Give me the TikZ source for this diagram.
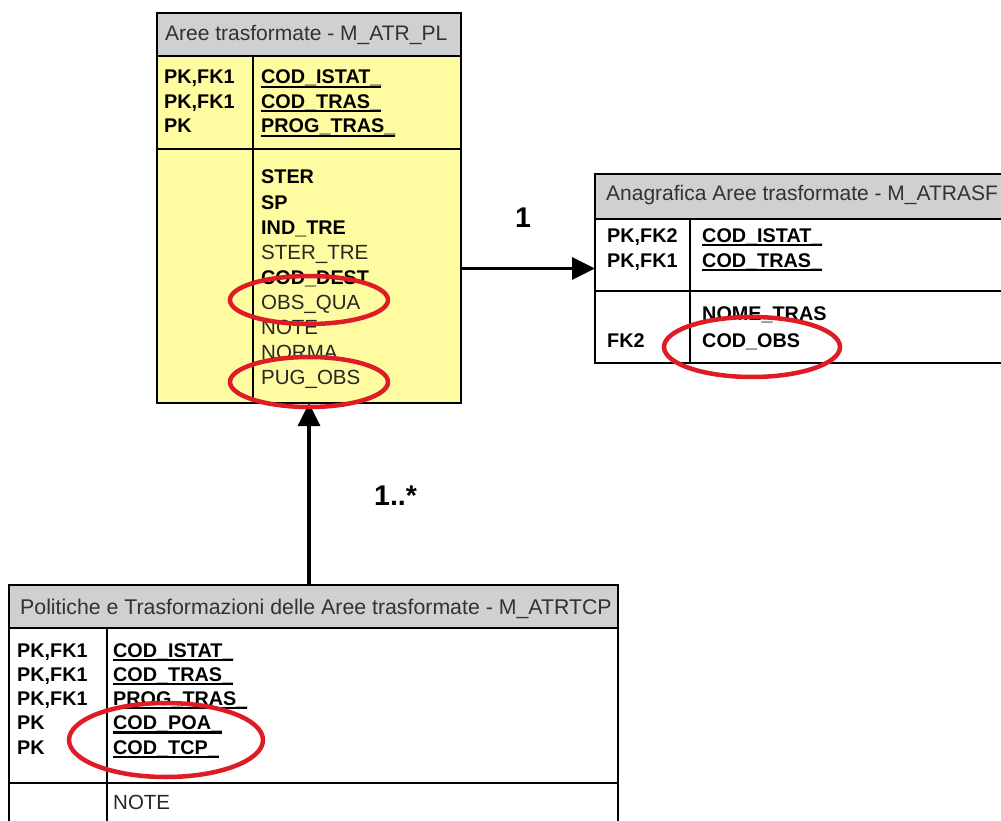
\documentclass[tikz,border=0pt]{standalone}
\usepackage{fontspec}
\setmainfont{Liberation Sans}
\usetikzlibrary{arrows.meta}
\definecolor{tabyellow}{RGB}{255,251,160}
\definecolor{tabgray}{RGB}{208,208,208}
\definecolor{markred}{RGB}{222,28,38}
\definecolor{hdrtxt}{RGB}{50,50,50}
\newcommand\ulx[1]{\setbox0\hbox{#1}\rlap{\rule[-0.2em]{\wd0}{0.12em}}\box0}
\begin{document}
\begin{tikzpicture}[x=1pt,y=-1pt,
  tablebox/.style={draw=black, line width=1.5pt, inner sep=0pt, outer sep=0pt, anchor=north west},
  sep/.style={black, line width=1.5pt},
  hdrt/.style={anchor=base west, inner sep=0pt, font=\fontsize{21}{25}\selectfont, text=hdrtxt},
  keyt/.style={anchor=base west, inner sep=0pt, font=\fontsize{19.8}{24}\selectfont\bfseries},
  attb/.style={anchor=base west, inner sep=0pt, font=\fontsize{19.8}{24}\selectfont\bfseries},
  attn/.style={anchor=base west, inner sep=0pt, font=\fontsize{20.5}{24}\selectfont, text=black!85},
  lbl/.style={anchor=base west, inner sep=0pt, font=\fontsize{28.5}{32}\selectfont\bfseries},
  conn/.style={line width=3.5pt, -{Triangle[length=23pt,width=22pt]}},
  redring/.style={draw=markred, line width=4.5pt}
]
\useasboundingbox (0,0) rectangle (1001,821);
\clip (0,0) rectangle (1001,821);
\fill[white] (0,0) rectangle (1001,821);

% ---------- Table A: Aree trasformate ----------
\node[tablebox, fill=tabyellow, minimum width=304pt, minimum height=390pt] (A) at (157,13) {};
\fill[tabgray] (157,13) rectangle (461,56);
\draw[sep] (157,56) -- (461,56);
\draw[sep] (157,149) -- (461,149);
\draw[sep] (253,56) -- (253,403);
\draw[sep] (A.north west) rectangle (A.south east);
\node[hdrt] (ah) at (165,41) {Aree trasformate - M\_ATR\_PL};
\node[keyt] (ak1) at (164,84) {PK,FK1};
\node[keyt] (ak2) at (164,108.5) {PK,FK1};
\node[keyt] (ak3) at (164,133) {PK};
\node[keyt] (af1) at (261,84) {\ulx{COD\_ISTAT\_}};
\node[keyt] (af2) at (261,108.5) {\ulx{COD\_TRAS\_}};
\node[keyt] (af3) at (261,133) {\ulx{PROG\_TRAS\_}};
\node[attb] (aa1) at (261,184) {STER};
\node[attb] (aa2) at (261,209.1) {SP};
\node[attb] (aa3) at (261,234.2) {IND\_TRE};
\node[attn] (aa4) at (261,259.3) {STER\_TRE};
\node[attb] (aa5) at (261,284.4) {COD\_DEST};
\node[attn] (aa6) at (261,309.5) {OBS\_QUA};
\node[attn] (aa7) at (261,334.6) {NOTE};
\node[attn] (aa8) at (261,359.7) {NORMA};
\node[attn] (aa9) at (261,384.8) {PUG\_OBS};

% ---------- Table B: Anagrafica ----------
\node[tablebox, fill=white, minimum width=440pt, minimum height=189pt] (B) at (595,174) {};
\fill[tabgray] (595,174) rectangle (1035,219);
\draw[sep] (595,219) -- (1035,219);
\draw[sep] (595,291) -- (1035,291);
\draw[sep] (690,219) -- (690,363);
\draw[sep] (B.north west) rectangle (B.south east);
\node[hdrt] (bh) at (606,200.5) {Anagrafica Aree trasformate - M\_ATRASF};
\node[keyt] (bk1) at (607,242) {PK,FK2};
\node[keyt] (bk2) at (607,267) {PK,FK1};
\node[keyt] (bf1) at (702,242) {\ulx{COD\_ISTAT\_}};
\node[keyt] (bf2) at (702,267) {\ulx{COD\_TRAS\_}};
\node[attb] (ba1) at (702,320) {NOME\_TRAS};
\node[keyt] (bk3) at (607,347) {FK2};
\node[attb] (ba2) at (702,347) {COD\_OBS};

% ---------- Table C: Politiche ----------
\node[tablebox, fill=white, minimum width=609pt, minimum height=260pt] (C) at (9,585) {};
\fill[tabgray] (9,585) rectangle (618,628);
\draw[sep] (9,628) -- (618,628);
\draw[sep] (9,783) -- (618,783);
\draw[sep] (107,628) -- (107,845);
\draw[sep] (C.north west) rectangle (C.south east);
\node[hdrt, font=\fontsize{21.3}{25}\selectfont] (ch) at (20,614.5) {Politiche e Trasformazioni delle Aree trasformate - M\_ATRTCP};
\node[keyt] (ck1) at (17,657) {PK,FK1};
\node[keyt] (ck2) at (17,681.25) {PK,FK1};
\node[keyt] (ck3) at (17,705.5) {PK,FK1};
\node[keyt] (ck4) at (17,729.75) {PK};
\node[keyt] (ck5) at (17,754) {PK};
\node[keyt] (cf1) at (113,657) {\ulx{COD\_ISTAT\_}};
\node[keyt] (cf2) at (113,681.25) {\ulx{COD\_TRAS\_}};
\node[keyt] (cf3) at (113,705.5) {\ulx{PROG\_TRAS\_}};
\node[keyt] (cf4) at (113,729.75) {\ulx{COD\_POA\_}};
\node[keyt] (cf5) at (113,754) {\ulx{COD\_TCP\_}};
\node[attn] (ca1) at (113,809) {NOTE};

% ---------- connectors ----------
\draw[conn] (A.east |- B.west) -- (B.west);
\draw[conn] (A.south |- C.north) -- (A.south);
\node[lbl] (l1) at (515,228) {1};
\node[lbl] (l2) at (374,505) {1..*};

% ---------- red marks ----------
\draw[redring] (309,300) ellipse [x radius=79pt, y radius=24pt];
\draw[redring] (309,382) ellipse [x radius=79pt, y radius=25pt];
\draw[redring] (752,347) ellipse [x radius=88pt, y radius=30pt];
\draw[redring] (166,740) ellipse [x radius=97pt, y radius=37pt];
\end{tikzpicture}
\end{document}
